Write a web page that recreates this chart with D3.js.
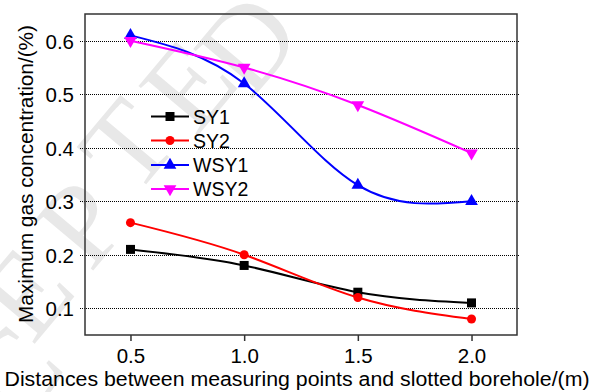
<!DOCTYPE html>
<html>
<head>
<meta charset="utf-8">
<script src="https://cdn.jsdelivr.net/npm/d3@7/dist/d3.min.js"></script>
<style>
  html, body { margin: 0; padding: 0; background: #fff; }
  svg { display: block; }
  text { font-family: "Liberation Sans", Arial, sans-serif; }
</style>
</head>
<body>
<svg id="chart" width="591" height="392"></svg>
<script>
const distances = [0.5, 1.0, 1.5, 2.0];
const seriesNames = ["SY1", "SY2", "WSY1", "WSY2"];
const sy1 = [0.21, 0.18, 0.13, 0.11];
const sy2 = [0.26, 0.20, 0.12, 0.08];
const wsy1 = [0.61, 0.52, 0.33, 0.30];
const wsy2 = [0.60, 0.55, 0.48, 0.39];
const xTicks = [0.5, 1.0, 1.5, 2.0];
const yTicks = [0.1, 0.2, 0.3, 0.4, 0.5, 0.6];
const xTitle = "Distances between measuring points and slotted borehole/(m)";
const yTitle = "Maximum gas concentration/(%)";
const watermarkLetters = ["C", "E", "P", "T", "E", "D"];

const colors = ["#000000", "#ff0000", "#0000ff", "#ff00ff"];
const symbols = [d3.symbolSquare, d3.symbolCircle, d3.symbolTriangle, d3.symbolTriangle];
const symSizes = [81, 64, 70, 70];
const symRot = [0, 0, 0, 180];
const allValues = [sy1, sy2, wsy1, wsy2];

const svg = d3.select("#chart");
const L = 85, R = 517, T = 14, B = 335;

// faint watermark (each letter placed along a diagonal)
const wmPos = [[12, 372], [24, 292], [80, 222], [126, 144], [187, 84], [246, 42]];
svg.append("g").selectAll("text").data(watermarkLetters).join("text")
  .attr("transform", (d, i) => `translate(${wmPos[i][0]},${wmPos[i][1]}) rotate(-50)`)
  .attr("text-anchor", "middle").attr("dy", "0.35em")
  .style("font-family", "'Liberation Serif', 'DejaVu Serif', serif")
  .attr("font-size", 118)
  .attr("fill", "#e8e8e8")
  .text(d => d);

const x = d3.scaleLinear().domain([0.3, 2.2]).range([L, R]);
const y = d3.scaleLinear().domain([0.05, 0.65]).range([B, T]);

// grid lines
svg.append("g").selectAll("line").data(yTicks).join("line")
  .attr("x1", L - 5).attr("x2", R + 3)
  .attr("y1", d => Math.round(y(d)) + 0.5).attr("y2", d => Math.round(y(d)) + 0.5)
  .attr("stroke", "#000").attr("stroke-width", 1).attr("stroke-dasharray", "1,1");

// frame
svg.append("rect").attr("x", L).attr("y", T).attr("width", R - L).attr("height", B - T)
  .attr("fill", "none").attr("stroke", "#333").attr("stroke-width", 1.5);

// axes
const xAxis = d3.axisBottom(x).tickValues(xTicks).tickFormat(d3.format(".1f")).tickSize(6).tickPadding(7);
const gx = svg.append("g").attr("transform", `translate(0,${B})`).call(xAxis);
gx.select(".domain").remove();
gx.selectAll("line").attr("stroke", "#333").attr("stroke-width", 1.5);
gx.selectAll("text").attr("font-size", 20.5).attr("fill", "#000")
  .style("font-family", "'Liberation Sans', Arial, sans-serif");

const yAxis = d3.axisLeft(y).tickValues(yTicks).tickFormat(d3.format(".1f")).tickSize(0).tickPadding(11);
const gy = svg.append("g").attr("transform", `translate(${L},0)`).call(yAxis);
gy.select(".domain").remove();
gy.selectAll("text").attr("font-size", 20.5).attr("fill", "#000").attr("dy", "0.36em")
  .style("font-family", "'Liberation Sans', Arial, sans-serif");

// titles
svg.append("text").attr("x", (L + R) / 2 - 4).attr("y", 386)
  .attr("text-anchor", "middle").attr("font-size", 20).attr("fill", "#000")
  .attr("textLength", 585).attr("lengthAdjust", "spacingAndGlyphs")
  .text(xTitle);
svg.append("text").attr("transform", `translate(33,174) rotate(-90)`)
  .attr("text-anchor", "middle").attr("font-size", 20).attr("fill", "#000")
  .attr("textLength", 298).attr("lengthAdjust", "spacingAndGlyphs")
  .text(yTitle);

// series
const line = d3.line().x(d => x(d[0])).y(d => y(d[1])).curve(d3.curveNatural);
allValues.forEach((vals, i) => {
  const pts = distances.map((d, j) => [d, vals[j]]);
  svg.append("path").datum(pts).attr("d", line)
    .attr("fill", "none").attr("stroke", colors[i]).attr("stroke-width", 2);
  svg.append("g").selectAll("path").data(pts).join("path")
    .attr("d", d3.symbol().type(symbols[i]).size(symSizes[i]))
    .attr("transform", d => `translate(${x(d[0])},${y(d[1])}) rotate(${symRot[i]})`)
    .attr("fill", colors[i]);
});

// legend
const legY = [116.5, 140.5, 165, 189];
seriesNames.forEach((name, i) => {
  const g = svg.append("g").attr("transform", `translate(0,${legY[i]})`);
  g.append("line").attr("x1", 151).attr("x2", 189).attr("y1", 0).attr("y2", 0)
    .attr("stroke", colors[i]).attr("stroke-width", 2);
  g.append("path").attr("d", d3.symbol().type(symbols[i]).size(symSizes[i]))
    .attr("transform", `translate(170,0) rotate(${symRot[i]})`).attr("fill", colors[i]);
  g.append("text").attr("x", 193).attr("y", 0).attr("dy", "0.36em")
    .attr("font-size", 19.5).attr("fill", "#000").text(name);
});
</script>
</body>
</html>
